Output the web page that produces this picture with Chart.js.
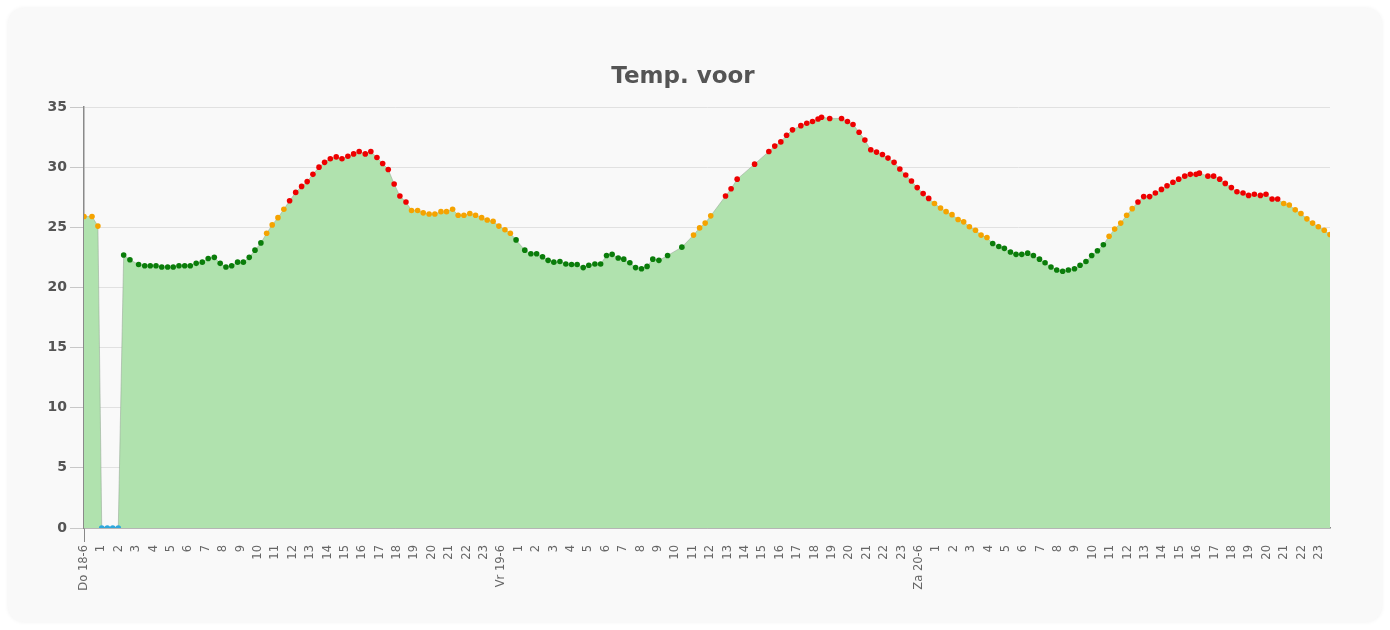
<!DOCTYPE html>
<html>
<head>
<meta charset="utf-8">
<title>Temp. voor</title>
<script src="https://cdn.jsdelivr.net/npm/chart.js"></script>
<style>
    html, body { margin: 0; padding: 0; background: #ffffff; }
    #card {
        position: absolute; left: 8px; top: 8px; width: 1374px; height: 614px;
        background: #f9f9f9; border-radius: 16px;
        box-shadow: 0 0 4px rgba(0, 0, 0, 0.06);
    }
    #card canvas { display: block; }
</style>
</head>
<body>
<div id="card"><canvas id="myChart"></canvas></div>
<script>
// time since Do 18-6 00:00, in hours
var hours = [
    0.00, 0.46, 0.80, 1.02, 1.34, 1.65, 1.97, 2.28, 2.64, 3.14, 3.49, 3.81, 4.14, 4.47, 4.81, 5.13,
    5.46, 5.79, 6.11, 6.45, 6.80, 7.14, 7.49, 7.83, 8.16, 8.49, 8.83, 9.16, 9.50, 9.83, 10.17, 10.50,
    10.82, 11.15, 11.49, 11.82, 12.17, 12.51, 12.83, 13.16, 13.51, 13.83, 14.16, 14.50, 14.83, 15.17,
    15.50, 15.82, 16.17, 16.49, 16.84, 17.17, 17.49, 17.83, 18.16, 18.51, 18.83, 19.18, 19.50, 19.84,
    20.17, 20.52, 20.84, 21.19, 21.51, 21.84, 22.18, 22.51, 22.86, 23.18, 23.52, 23.85, 24.20, 24.51,
    24.84, 25.34, 25.69, 26.02, 26.36, 26.68, 27.01, 27.36, 27.70, 28.03, 28.35, 28.70, 29.02, 29.37,
    29.70, 30.04, 30.36, 30.71, 31.03, 31.38, 31.71, 32.05, 32.37, 32.70, 33.05, 33.55, 34.37, 35.04,
    35.39, 35.71, 36.03, 36.88, 37.20, 37.55, 38.55, 39.37, 39.71, 40.06, 40.39, 40.73, 41.21, 41.55,
    41.88, 42.20, 42.40, 42.87, 43.55, 43.89, 44.21, 44.56, 44.89, 45.23, 45.56, 45.90, 46.22, 46.57,
    46.90, 47.24, 47.57, 47.90, 48.24, 48.56, 48.89, 49.24, 49.56, 49.90, 50.25, 50.57, 50.90, 51.25,
    51.57, 51.91, 52.24, 52.59, 52.91, 53.26, 53.58, 53.91, 54.25, 54.58, 54.93, 55.25, 55.59, 55.92,
    56.26, 56.59, 56.94, 57.26, 57.60, 57.93, 58.26, 58.60, 58.93, 59.25, 59.60, 59.94, 60.26, 60.59,
    60.92, 61.26, 61.59, 61.94, 62.26, 62.60, 62.93, 63.28, 63.60, 63.93, 64.12, 64.61, 64.94, 65.29,
    65.61, 65.96, 66.28, 66.63, 66.95, 67.28, 67.63, 67.95, 68.30, 68.62, 68.97, 69.29, 69.63, 69.96,
    70.30, 70.63, 70.96, 71.30, 71.63
];

var temps = [
    25.9, 25.9, 25.1, 0, 0, 0, 0, 22.7, 22.3, 21.9, 21.8, 21.8, 21.8, 21.7, 21.7, 21.7,
    21.8, 21.8, 21.8, 22.0, 22.1, 22.4, 22.5, 22.0, 21.7, 21.8, 22.1, 22.1, 22.5, 23.1, 23.7, 24.5,
    25.2, 25.8, 26.5, 27.2, 27.9, 28.4, 28.8, 29.4, 30.0, 30.4, 30.7, 30.85, 30.7, 30.9,
    31.1, 31.3, 31.1, 31.3, 30.8, 30.3, 29.8, 28.6, 27.6, 27.1, 26.4, 26.4, 26.2, 26.1,
    26.1, 26.3, 26.3, 26.5, 26.0, 26.0, 26.15, 26.0, 25.8, 25.6, 25.5, 25.1, 24.8, 24.5,
    23.95, 23.1, 22.8, 22.8, 22.55, 22.25, 22.1, 22.15, 21.95, 21.9, 21.9, 21.65, 21.85, 21.95,
    21.95, 22.65, 22.75, 22.45, 22.35, 22.05, 21.65, 21.55, 21.75, 22.35, 22.25, 22.65, 23.35, 24.35,
    24.95, 25.35, 25.95, 27.6, 28.2, 29.0, 30.25, 31.3, 31.75, 32.1, 32.65, 33.1, 33.45, 33.65,
    33.8, 34.0, 34.15, 34.05, 34.05, 33.8, 33.55, 32.9, 32.25, 31.45, 31.25, 31.05, 30.75, 30.4,
    29.85, 29.35, 28.85, 28.3, 27.8, 27.4, 26.98, 26.6, 26.3, 26.05, 25.65, 25.45, 25.05, 24.75,
    24.35, 24.15, 23.65, 23.4, 23.25, 22.95, 22.75, 22.75, 22.85, 22.65, 22.35, 22.05, 21.7, 21.45,
    21.35, 21.45, 21.55, 21.85, 22.15, 22.65, 23.05, 23.55, 24.25, 24.85, 25.35, 26.0, 26.55, 27.1,
    27.55, 27.55, 27.85, 28.15, 28.45, 28.75, 29.0, 29.25, 29.4, 29.4, 29.5, 29.25, 29.25, 29.0,
    28.65, 28.3, 27.95, 27.85, 27.65, 27.75, 27.65, 27.75, 27.35, 27.35, 26.98, 26.85, 26.45, 26.15,
    25.7, 25.35, 25.05, 24.75, 24.4
];

var dayLabels = ['Do 18-6', 'Vr 19-6', 'Za 20-6'];
var yMin = 0, yMax = 35, yStep = 5;

function pointColor(t) {
    if (t <= 0) return '#2ea8dc';
    if (t < 24) return '#0a7d0a';
    if (t < 27) return '#f5a300';
    return '#ee0000';
}

function hourLabel(v) {
    var h = v % 24;
    if (h === 0) return dayLabels[v / 24];
    return String(h);
}

var points = hours.map(function (h, i) { return { x: h, y: temps[i] }; });
var fontName = '"DejaVu Sans", sans-serif';

var ctx = document.getElementById('myChart').getContext('2d');
var chart = new Chart(ctx, {
    type: 'line',
    data: {
        datasets: [{
            label: 'Temp. voor',
            data: points,
            fill: 'origin',
            backgroundColor: 'rgb(176, 226, 174)',
            borderColor: 'rgba(150, 165, 150, 0.55)',
            borderWidth: 1,
            tension: 0,
            pointRadius: 2.8,
            pointBorderWidth: 0,
            pointBackgroundColor: temps.map(pointColor),
            pointBorderColor: temps.map(pointColor)
        }]
    },
    options: {
        responsive: true,
        maintainAspectRatio: false,
        animation: false,
        layout: { padding: { left: 28, right: 52, top: 0, bottom: 0 } },
        plugins: {
            legend: { display: false },
            tooltip: { enabled: false },
            title: {
                display: true,
                text: 'Temp. voor',
                color: '#555555',
                font: { family: fontName, size: 23, weight: 'bold' },
                padding: { top: 55, bottom: 16.4 }
            }
        },
        scales: {
            x: {
                type: 'linear',
                min: hours[0],
                max: hours[hours.length - 1],
                afterBuildTicks: function (s) {
                    // one tick per whole hour
                    var list = [];
                    for (var h = Math.ceil(s.min); h <= s.max; h++) list.push({ value: h });
                    s.ticks = list;
                },
                afterFit: function (s) { s.height = 94; },
                ticks: {
                    stepSize: 1,
                    autoSkip: false,
                    minRotation: 90,
                    maxRotation: 90,
                    padding: 3,
                    color: '#666666',
                    font: { family: fontName, size: 11.5 },
                    callback: function (v) { return hourLabel(v); }
                },
                grid: {
                    drawOnChartArea: false,
                    drawTicks: true,
                    tickLength: 14,
                    color: function (c) { return c.tick && c.tick.value === 0 ? '#888888' : 'rgba(0,0,0,0)'; }
                },
                border: { display: true, color: '#8a8a8a', width: 1.5 }
            },
            y: {
                min: yMin,
                max: yMax,
                afterFit: function (s) { s.width = 48; },
                ticks: {
                    stepSize: yStep,
                    padding: 3,
                    color: '#555555',
                    font: { family: fontName, size: 14, weight: 'bold' }
                },
                grid: {
                    color: '#e1e1e1',
                    tickColor: '#c8c8c8',
                    tickLength: 14
                },
                border: { display: true, color: '#8a8a8a', width: 1.5 }
            }
        }
    }
});
</script>
</body>
</html>
